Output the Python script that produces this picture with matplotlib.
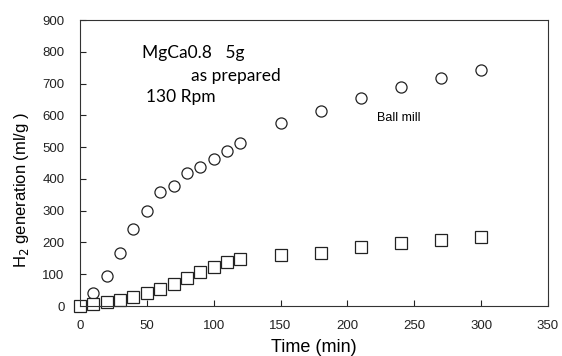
import matplotlib
matplotlib.use('Agg')
import matplotlib.pyplot as plt

# hydrogen evolution, time in minutes
time_min = [0, 10, 20, 30, 40, 50, 60, 70, 80, 90, 100, 110, 120, 150, 180, 210, 240, 270, 300]
ball_mill = [0, 40, 95, 168, 242, 298, 360, 378, 418, 437, 462, 487, 512, 575, 615, 655, 688, 716, 742]
as_prepared = [0, 5, 12, 20, 28, 40, 52, 68, 88, 107, 122, 137, 147, 162, 167, 187, 198, 208, 217]

x_ticks = [0, 50, 100, 150, 200, 250, 300, 350]
y_ticks = [0, 100, 200, 300, 400, 500, 600, 700, 800, 900]

plt.rcParams['font.family'] = ['Liberation Sans', 'DejaVu Sans']

fig = plt.figure(figsize=(5.62, 3.56), dpi=100)
ax = fig.add_axes([0.1423, 0.1404, 0.8327, 0.8034])

ax.plot(time_min, ball_mill, linestyle='none', marker='o', markersize=8,
        markerfacecolor='white', markeredgecolor='#222222', markeredgewidth=0.9, clip_on=False)
ax.plot(time_min, as_prepared, linestyle='none', marker='s', markersize=8,
        markerfacecolor='white', markeredgecolor='#222222', markeredgewidth=0.9, clip_on=False)

ax.set_xlim(0, 350)
ax.set_ylim(0, 900)
ax.set_xticks(x_ticks)
ax.set_yticks(y_ticks)
ax.tick_params(direction='in', length=4, width=0.8, labelsize=9.5, colors='#222222')
ax.tick_params(axis='x', pad=10)
ax.tick_params(axis='y', pad=11)
for s in ax.spines.values():
    s.set_linewidth(0.8)
    s.set_color('#333333')

ax.set_xlabel('Time (min)', fontsize=13, labelpad=5)
ax.set_ylabel('H$_2$ generation (ml/g )', fontsize=12)
ax.yaxis.set_label_coords(-0.104, 0.406)

note_font = ['Lato', 'DejaVu Sans']
ax.text(46.5, 795, 'MgCa0.8   5g', fontsize=12.5, family=note_font, va='center')
ax.text(83, 723, 'as prepared', fontsize=12.5, family=note_font, va='center')
ax.text(49.5, 657, '130 Rpm', fontsize=12.5, family=note_font, va='center')
ax.text(222, 591, 'Ball mill', fontsize=9, va='center')

fig.savefig('out.png', dpi=100)
